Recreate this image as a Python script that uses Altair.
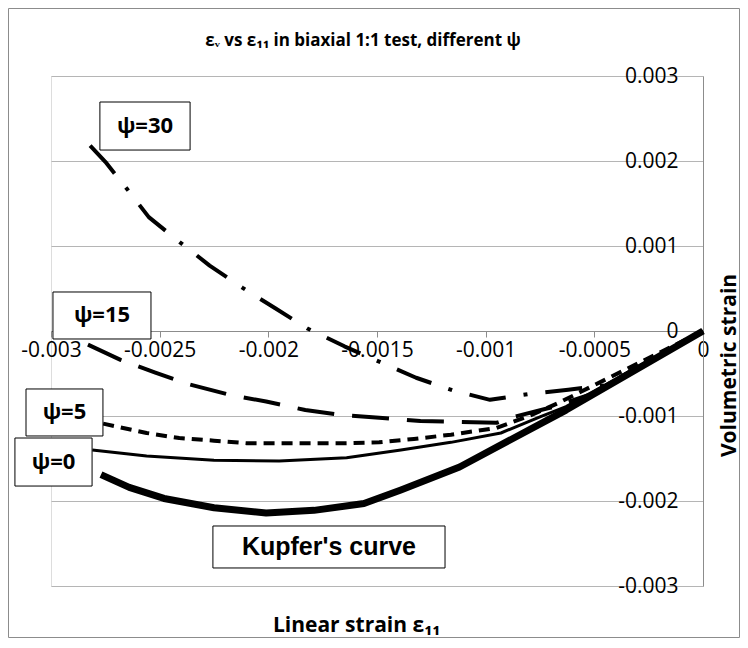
import altair as alt
import pandas as pd

# ---------------- data ----------------
x_ticks = [-0.003, -0.0025, -0.002, -0.0015, -0.001, -0.0005, 0]
y_ticks = [-0.003, -0.002, -0.001, 0, 0.001, 0.002, 0.003]

kupfer_x = [-0.00277, -0.00264, -0.00248, -0.00225, -0.00201, -0.00179, -0.00156, -0.00139, -0.00112, -0.00063, 0.0]
kupfer_y = [-0.00169, -0.00184, -0.00197, -0.00208, -0.00214, -0.00211, -0.00203, -0.00187, -0.00160, -0.00093, 0.0]

psi0_x = [-0.00281, -0.00256, -0.00225, -0.00195, -0.00164, -0.00139, -0.00116, -0.00093, -0.00075, -0.00063, 0.0]
psi0_y = [-0.00140, -0.00147, -0.00152, -0.00153, -0.00149, -0.00140, -0.00131, -0.00120, -0.00101, -0.00089, 0.0]

psi5_x = [-0.00276, -0.00256, -0.00241, -0.00225, -0.00210, -0.00195, -0.00179, -0.00164, -0.00149,
          -0.00133, -0.00116, -0.00095, -0.00080, -0.00066, 0.0]
psi5_y = [-0.00109, -0.00120, -0.00126, -0.00129, -0.00132, -0.00132, -0.00132, -0.00132, -0.00131,
          -0.00127, -0.00122, -0.00114, -0.00100, -0.00084, 0.0]

psi15_x = [-0.00283, -0.00268, -0.00252, -0.00236, -0.00218, -0.00201, -0.00183, -0.00166, -0.00149,
           -0.00130, -0.00112, -0.00095, -0.00087, -0.00070, -0.00050, 0.0]
psi15_y = [-0.00016, -0.00034, -0.00049, -0.00063, -0.00075, -0.00083, -0.00093, -0.00099, -0.00102,
           -0.00106, -0.00107, -0.00108, -0.00101, -0.00090, -0.00073, 0.0]

psi30_x = [-0.00282, -0.00275, -0.00265, -0.00255, -0.00242, -0.00227, -0.00212, -0.00197, -0.00182,
           -0.00165, -0.00149, -0.00132, -0.00115, -0.00098, -0.00080, -0.00062, -0.00045, 0.0]
psi30_y = [0.00218, 0.00199, 0.00167, 0.00134, 0.00107, 0.00077, 0.00051, 0.00027, 0.00003,
           -0.00018, -0.00036, -0.00055, -0.00070, -0.00081, -0.00074, -0.00069, -0.00064, 0.0]

# annotation boxes (data units)
label_text = ["ψ=30", "ψ=15", "ψ=5", "ψ=0"]
label_x0 = [-0.002775, -0.002991, -0.003115, -0.003166]
label_x1 = [-0.002360, -0.002540, -0.002761, -0.002811]
label_y0 = [0.002694, 0.000459, -0.000682, -0.001259]
label_y1 = [0.002129, -0.000094, -0.001235, -0.001824]

kupfer_label = ["Kupfer's curve"]
kupfer_lx0 = [-0.002255]
kupfer_lx1 = [-0.001187]
kupfer_ly0 = [-0.002294]
kupfer_ly1 = [-0.002788]

# ---------------- build tables ----------------
def series(xs, ys):
    return pd.DataFrame({"x": xs, "y": ys, "order": list(range(len(xs)))})

labels_df = pd.DataFrame({"text": label_text, "x0": label_x0, "x1": label_x1, "y0": label_y0, "y1": label_y1})
kupfer_lab_df = pd.DataFrame({"text": kupfer_label, "x0": kupfer_lx0, "x1": kupfer_lx1,
                              "y0": kupfer_ly0, "y1": kupfer_ly1})

FONT = "Open Sans"
AXIS_GRAY = "#8c8c8c"

x_scale = alt.Scale(domain=[-0.003, 0], nice=False, zero=False)
y_scale = alt.Scale(domain=[-0.003, 0.003], nice=False, zero=False)

x_axis = alt.Axis(
    orient="bottom", offset=-255, values=x_ticks, labelExpr="'' + datum.value",
    grid=False, domainColor=AXIS_GRAY, tickColor=AXIS_GRAY, tickSize=6,
    labelPadding=2, labelFont=FONT, labelFontSize=21, labelColor="#000000",
    labelFlush=False, labelOverlap=False,
    title="Linear strain ε₁₁", titleFont=FONT, titleFontSize=21, titleFontWeight="bold",
    titleColor="#000000", titleX=305, titleY=294, titleBaseline="middle", titleAlign="center",
)
y_axis = alt.Axis(
    orient="right", values=y_ticks, labelExpr="'' + datum.value",
    grid=True, gridColor="#b5b5b5", domainColor=AXIS_GRAY, ticks=False,
    labelAlign="right", labelPadding=-25, labelFont=FONT, labelFontSize=21, labelColor="#000000",
    labelFlush=False, labelOverlap=False,
    title="Volumetric strain", titleFont=FONT, titleFontSize=21, titleFontWeight="bold",
    titleColor="#000000", titleAngle=270, titleX=26, titleY=289, titleBaseline="middle",
    titleAlign="center", titleLimit=400,
)

X = alt.X("x:Q", scale=x_scale, axis=x_axis)
Y = alt.Y("y:Q", scale=y_scale, axis=y_axis)


def line(df, width, dash=None):
    kw = dict(color="black", strokeWidth=width, strokeCap="butt", strokeJoin="round")
    if dash:
        kw["strokeDash"] = dash
    return alt.Chart(df).mark_line(**kw).encode(x=X, y=Y, order="order:Q")


l_kupfer = line(series(kupfer_x, kupfer_y), 7)
l_psi0 = line(series(psi0_x, psi0_y), 3)
l_psi5 = line(series(psi5_x, psi5_y), 4, [11, 7])
l_psi15 = line(series(psi15_x, psi15_y), 4, [37, 18])
l_psi30 = line(series(psi30_x, psi30_y), 4, [37, 18, 4, 18])

boxes = alt.Chart(labels_df).mark_rect(fill="white", stroke="black", strokeWidth=1).encode(
    x=alt.X("x0:Q", scale=x_scale, axis=x_axis), x2="x1:Q",
    y=alt.Y("y0:Q", scale=y_scale, axis=y_axis), y2="y1:Q",
)
box_text = alt.Chart(labels_df).transform_calculate(
    cx="(datum.x0 + datum.x1) / 2", cy="(datum.y0 + datum.y1) / 2"
).mark_text(font=FONT, fontSize=22, fontWeight="bold", color="black", baseline="middle", align="center").encode(
    x=alt.X("cx:Q", scale=x_scale, axis=x_axis), y=alt.Y("cy:Q", scale=y_scale, axis=y_axis), text="text:N"
)

kbox = alt.Chart(kupfer_lab_df).mark_rect(fill="white", stroke="black", strokeWidth=1).encode(
    x=alt.X("x0:Q", scale=x_scale, axis=x_axis), x2="x1:Q",
    y=alt.Y("y0:Q", scale=y_scale, axis=y_axis), y2="y1:Q",
)
ktext = alt.Chart(kupfer_lab_df).transform_calculate(
    cx="(datum.x0 + datum.x1) / 2", cy="(datum.y0 + datum.y1) / 2"
).mark_text(font="Liberation Sans", fontSize=25, fontWeight="bold", color="black", baseline="middle", align="center").encode(
    x=alt.X("cx:Q", scale=x_scale, axis=x_axis), y=alt.Y("cy:Q", scale=y_scale, axis=y_axis), text="text:N"
)

# outer chart-area frame
frame = alt.Chart(pd.DataFrame({"k": [0]})).mark_rect(
    fill=None, stroke="#8c8c8c", strokeWidth=1
).encode(x=alt.value(-42.5), x2=alt.value(688.5), y=alt.value(-67.5), y2=alt.value(561.5))

chart = alt.layer(
    frame, l_psi30, l_psi15, l_psi5, l_psi0, l_kupfer, boxes, box_text, kbox, ktext
).properties(
    width=652, height=510,
    title=alt.TitleParams(
        text="εᵥ vs ε₁₁ in biaxial 1:1 test, different ψ", font=FONT, fontSize=17, fontWeight="bold",
        color="#000000", anchor="middle", frame="group", offset=0, baseline="middle", dy=50, dx=-14,
    ),
    autosize=alt.AutoSizeParams(type="none"),
    padding={"left": 43, "top": 68, "right": 37, "bottom": 52},
).configure_view(stroke=None).configure(background="white")

chart.save("out.html", embed_options={"renderer": "svg", "actions": False})
